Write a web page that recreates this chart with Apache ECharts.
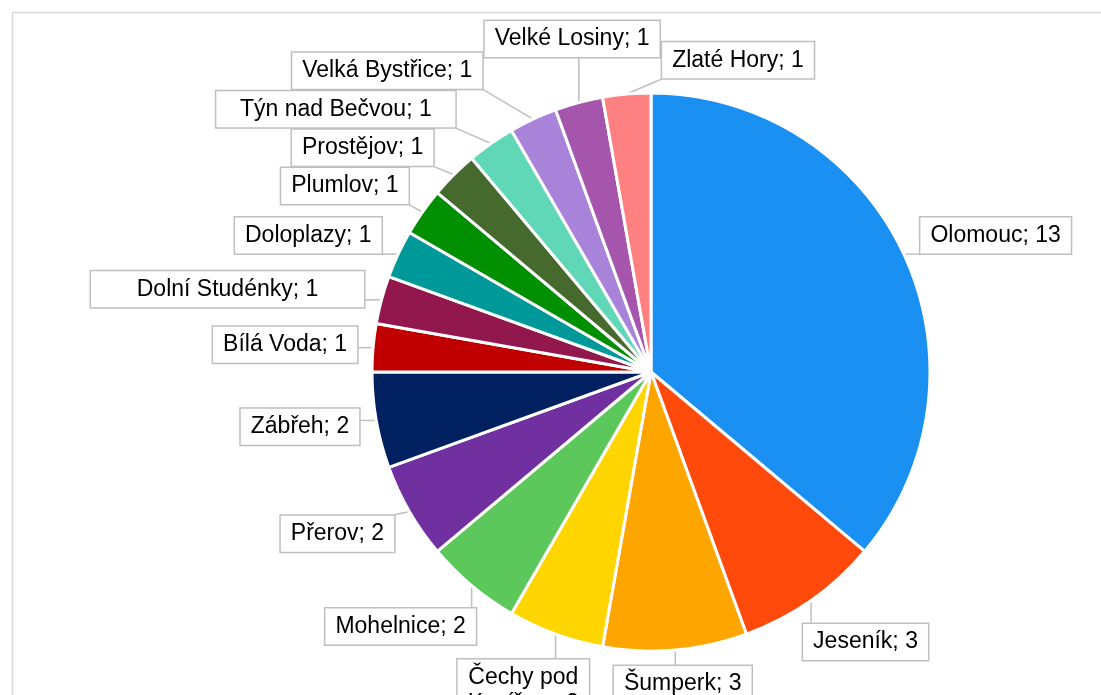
<!DOCTYPE html>
<html>
<head>
<meta charset="utf-8">
<script src="https://cdn.jsdelivr.net/npm/echarts@6/dist/echarts.min.js"></script>
<style>
  html, body { margin: 0; padding: 0; background: #fff; }
  #chart { width: 1101px; height: 695px; }
</style>
</head>
<body>
<div id="chart"></div>
<script>
// towns and counts, clockwise from 12 o'clock
const towns = [
  'Olomouc', 'Jeseník', 'Šumperk', 'Čechy pod Kosířem', 'Mohelnice', 'Přerov',
  'Zábřeh', 'Bílá Voda', 'Dolní Studénky', 'Doloplazy', 'Plumlov', 'Prostějov',
  'Týn nad Bečvou', 'Velká Bystřice', 'Velké Losiny', 'Zlaté Hory'
]
const counts = [13, 3, 3, 2, 2, 2, 2, 1, 1, 1, 1, 1, 1, 1, 1, 1]
const colors = [
  '#1990f2', '#ff4a0c', '#ffa500', '#ffd500', '#5cc85c', '#7030a0',
  '#002060', '#c00000', '#92174d', '#009999', '#008f00', '#466a2e',
  '#60d8b8', '#a983d9', '#a555ac', '#ff8080'
]
// a couple of callout boxes were stretched wider in the original
const stretchedBoxes = { 'Dolní Studénky': 253, 'Týn nad Bečvou': 219 }

const CX = 651, CY = 372, RADIUS = 279
const FONT = '23px "Liberation Sans", Arial, sans-serif'
const LINE_H = 26, PAD_V = 5, PAD_H = 10, GAP = 14

function labelText(name, value) {
  // the long name wraps after "pod" like in the original
  return name.replace('pod ', 'pod\n') + '; ' + value
}

// measure label boxes so they can be laid out like excel callouts
let ctx = document.createElement('canvas').getContext('2d')
ctx.font = FONT
let boxes = towns.map((name, i) => {
  let lines = labelText(name, counts[i]).split('\n')
  let w = stretchedBoxes[name] || Math.max(...lines.map(l => ctx.measureText(l).width))
  return { w: w + PAD_H * 2 + 2, h: lines.length * LINE_H + PAD_V * 2 + 2 }
})

let total = counts.reduce((a, b) => a + b, 0)
let midAngles = []
let acc = 0
counts.forEach(c => {
  midAngles.push((acc + c / 2) / total * 360)
  acc += c
})

function nearestOnBox(px, py, c, b) {
  return [
    Math.min(Math.max(px, c.x - b.w / 2), c.x + b.w / 2),
    Math.min(Math.max(py, c.y - b.h / 2), c.y + b.h / 2)
  ]
}

// box touches a point just outside the slice; which side of the box
// touches depends on the angle
function placeAt(angle, extra, box) {
  let a = angle * Math.PI / 180
  let s = Math.sin(a), c = -Math.cos(a)
  let d = RADIUS + GAP + extra
  let u = (1 - s) / 2, v = (1 - c) / 2
  let p = {
    x: CX + s * d + (0.5 - u) * box.w,
    y: CY + c * d + (0.5 - v) * box.h
  }
  // keep the box clear of the pie
  for (let k = 0; k < 20; k++) {
    let n = nearestOnBox(CX, CY, p, box)
    let dist = Math.hypot(n[0] - CX, n[1] - CY)
    if (dist >= d - 0.5) break
    p.x += s * (d - dist)
    p.y += c * (d - dist)
  }
  // stay inside the frame
  p.y = Math.max(p.y, 20 + box.h / 2)
  return p
}

function overlaps(p, bp, q, bq, m) {
  return Math.abs(p.x - q.x) < (bp.w + bq.w) / 2 + m &&
    Math.abs(p.y - q.y) < (bp.h + bq.h) / 2 + m
}

// spread overlapping labels: turn them apart along the circle and lift the
// earlier one a little further out
let angles = midAngles.slice()
let extras = towns.map(() => 0)
for (let iter = 0; iter < 3000; iter++) {
  let pos = angles.map((a, i) => placeAt(a, extras[i], boxes[i]))
  let moved = false
  for (let i = 0; i < towns.length; i++) {
    for (let j = i + 1; j < towns.length; j++) {
      if (!overlaps(pos[i], boxes[i], pos[j], boxes[j], 0)) continue
      let diff = ((angles[j] - angles[i]) % 360 + 360) % 360
      let step = 0.15
      if (diff < 180) { angles[i] -= step; angles[j] += step; extras[i] += 0.25 }
      else { angles[i] += step; angles[j] -= step; extras[j] += 0.25 }
      moved = true
    }
  }
  if (!moved) break
}
let labelPos = angles.map((a, i) => placeAt(a, extras[i], boxes[i]))

function guidePoints(i) {
  let a = midAngles[i] * Math.PI / 180
  let p0 = [CX + Math.sin(a) * RADIUS, CY - Math.cos(a) * RADIUS]
  let p2 = nearestOnBox(p0[0], p0[1], labelPos[i], boxes[i])
  let p1 = [p0[0] + (p2[0] - p0[0]) * 0.85, p0[1] + (p2[1] - p0[1]) * 0.85]
  return [p0, p1, p2]
}

let chart = echarts.init(document.getElementById('chart'))

let pieData = towns.map((name, i) => {
  let item = { name: name, value: counts[i] }
  if (stretchedBoxes[name]) {
    item.label = { width: stretchedBoxes[name], align: 'center' }
  }
  return item
})

let option = {
  animation: false,
  color: colors,
  graphic: [
    {
      type: 'rect',
      left: 10,
      top: 10,
      shape: { width: 1200, height: 800 },
      style: { fill: 'none', stroke: '#d9d9d9', lineWidth: 1.5 },
      silent: true
    }
  ],
  series: [
    {
      type: 'pie',
      center: [CX, CY],
      radius: RADIUS,
      startAngle: 90,
      clockwise: true,
      avoidLabelOverlap: false,
      itemStyle: { borderColor: '#fff', borderWidth: 3 },
      label: {
        show: true,
        position: 'outside',
        formatter: p => labelText(p.name, p.value),
        fontFamily: '"Liberation Sans", Arial, sans-serif',
        fontSize: 23,
        color: '#000',
        backgroundColor: '#fff',
        borderColor: '#bfbfbf',
        borderWidth: 1.5,
        padding: [PAD_V, PAD_H],
        lineHeight: LINE_H
      },
      labelLine: {
        show: true,
        length: 10,
        length2: 10,
        lineStyle: { color: '#bfbfbf', width: 1.5 }
      },
      labelLayout: params => ({
        x: labelPos[params.dataIndex].x,
        y: labelPos[params.dataIndex].y,
        align: 'center',
        verticalAlign: 'middle',
        labelLinePoints: guidePoints(params.dataIndex)
      }),
      emphasis: { disabled: true },
      data: pieData
    }
  ]
}

chart.setOption(option)
</script>
</body>
</html>
